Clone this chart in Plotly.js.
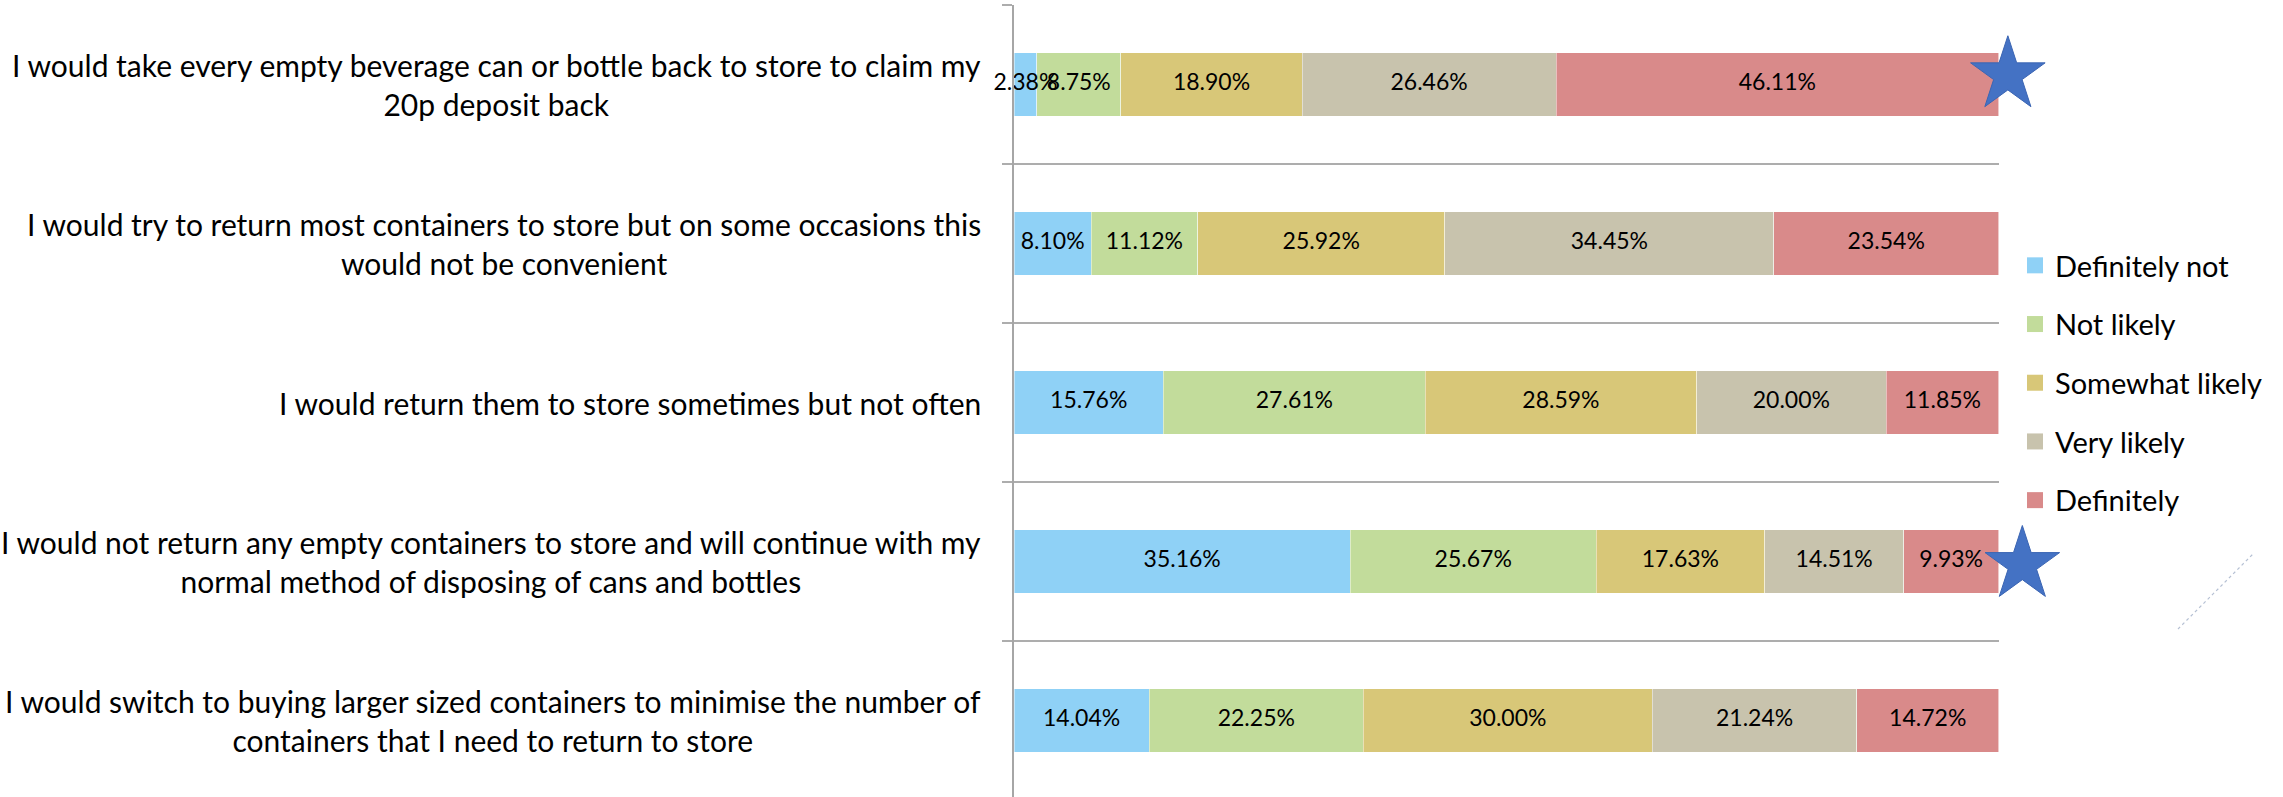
<!DOCTYPE html>
<html>
<head>
<meta charset="utf-8">
<script src="https://cdn.plot.ly/plotly-3.0.1.min.js"></script>
<style>
  html, body { margin: 0; padding: 0; background: #ffffff; }
  #chart { width: 2283px; height: 797px; }
</style>
</head>
<body>
<div id="chart"></div>
<script>
// ---- data ----
var categories = [
  "I would take every empty beverage can or bottle back to store to claim my<br>20p deposit back",
  "I would try to return most containers to store but on some occasions this<br>would not be convenient",
  "I would return them to store sometimes but not often",
  "I would not return any empty containers to store and will continue with my<br>normal method of disposing of cans and bottles",
  "I would switch to buying larger sized containers to minimise the number of<br>containers that I need to return to store"
];
var seriesNames = ["Definitely not", "Not likely", "Somewhat likely", "Very likely", "Definitely"];
var definitelyNot  = [2.38, 8.10, 15.76, 35.16, 14.04];
var notLikely      = [8.75, 11.12, 27.61, 25.67, 22.25];
var somewhatLikely = [18.90, 25.92, 28.59, 17.63, 30.00];
var veryLikely     = [26.46, 34.45, 20.00, 14.51, 21.24];
var definitely     = [46.11, 23.54, 11.85, 9.93, 14.72];
var seriesColors = ["#8fd1f6", "#c2dc9b", "#d8c778", "#c8c3ad", "#d98a8a"];
// highlight stars (x in % of bar length, y in category index units)
var starX = [100.94, 102.41];
var starY = [-0.06, 3.02];

var seriesValues = [definitelyNot, notLikely, somewhatLikely, veryLikely, definitely];
var FONT = "Lato, 'Open Sans', sans-serif";

var PLOT_W = 2283 - 1014;          // full drawing width right of the label column
var BAR_W = 984.6;                 // width of the 100% bars
var barDomainEnd = BAR_W / PLOT_W;
var yRange = [4.481, -0.5];

var traces = [];
// filled bar segments (100% stacked via layout.barnorm)
seriesValues.forEach(function (vals, i) {
  traces.push({
    type: "bar", orientation: "h", name: seriesNames[i],
    x: vals, y: categories, xaxis: "x", yaxis: "y",
    marker: { color: seriesColors[i], line: { color: "rgba(255,255,255,0.45)", width: 1 } },
    hoverinfo: "skip", showlegend: false
  });
});
// value labels, centred in each normalised segment, drawn above all segments
var rowTotals = categories.map(function (c, r) {
  return seriesValues.reduce(function (s, vals) { return s + vals[r]; }, 0);
});
var running = categories.map(function () { return 0; });
var labelX = [], labelY = [], labelText = [];
seriesValues.forEach(function (vals) {
  vals.forEach(function (v, r) {
    labelX.push((running[r] + v / 2) / rowTotals[r] * 100);
    labelY.push(categories[r]);
    labelText.push(v.toFixed(2) + "%");
    running[r] += v;
  });
});
traces.push({
  type: "scatter", mode: "text", x: labelX, y: labelY, text: labelText,
  xaxis: "x", yaxis: "y", cliponaxis: false, textposition: "middle center",
  textfont: { family: FONT, size: 23, color: "#000000" },
  hoverinfo: "skip", showlegend: false
});
// legend entries (square swatches)
seriesNames.forEach(function (n, i) {
  traces.push({
    type: "scatter", mode: "markers", name: n, legendgroup: "g" + i,
    x: [null], y: [null], xaxis: "x2", yaxis: "y2",
    marker: { symbol: "square", size: 18, color: seriesColors[i] },
    hoverinfo: "skip", showlegend: true
  });
});
// stars
traces.push({
  type: "scatter", mode: "markers",
  x: starX, y: starY, xaxis: "x2", yaxis: "y2", cliponaxis: false,
  marker: { symbol: "star", size: 56, color: "#4472c4", line: { color: "#3b65b3", width: 1 } },
  hoverinfo: "skip", showlegend: false
});

var annotations = categories.map(function (c) {
  return {
    xref: "paper", yref: "y", x: 0, y: c,
    xanchor: "right", yanchor: "middle", xshift: -31,
    align: "center", showarrow: false, text: c,
    font: { family: FONT, size: 30, color: "#000000" }
  };
});

var layout = {
  width: 2283, height: 797,
  margin: { l: 1014, r: 0, t: 5, b: 0, pad: 0 },
  paper_bgcolor: "#ffffff",
  plot_bgcolor: "rgba(0,0,0,0)",
  barmode: "stack",
  barnorm: "percent",
  bargap: 0.6,
  font: { family: FONT, color: "#000000" },
  xaxis: {
    domain: [0, barDomainEnd], range: [0, 100], anchor: "y",
    showgrid: false, zeroline: false, showline: false,
    showticklabels: false, ticks: "", fixedrange: true
  },
  yaxis: {
    type: "category", range: yRange, anchor: "x", tickson: "boundaries",
    showgrid: true, gridcolor: "#adadad", gridwidth: 2,
    showline: true, linecolor: "#a6a6a6", linewidth: 2,
    ticks: "outside", ticklen: 10, tickcolor: "#adadad", tickwidth: 2,
    showticklabels: false, zeroline: false, fixedrange: true
  },
  xaxis2: {
    domain: [0, 1], range: [0, 100 * PLOT_W / BAR_W], anchor: "y2",
    visible: false, fixedrange: true
  },
  yaxis2: {
    overlaying: "y", anchor: "x2", range: yRange, visible: false, fixedrange: true
  },
  showlegend: true,
  legend: {
    x: (2015 - 1014) / PLOT_W, xanchor: "left", y: 0.7033, yanchor: "top",
    traceorder: "grouped", tracegroupgap: 18,
    font: { family: FONT, size: 29, color: "#000000" },
    bgcolor: "rgba(0,0,0,0)", borderwidth: 0
  },
  annotations: annotations,
  shapes: [{
    type: "line", xref: "paper", yref: "paper",
    x0: (2178 - 1014) / PLOT_W, y0: 0.2121, x1: (2254 - 1014) / PLOT_W, y1: 0.3081,
    line: { color: "rgba(120,140,175,0.55)", width: 1.2, dash: "dot" }
  }]
};

Plotly.newPlot("chart", traces, layout, { staticPlot: true, displayModeBar: false });
</script>
</body>
</html>
